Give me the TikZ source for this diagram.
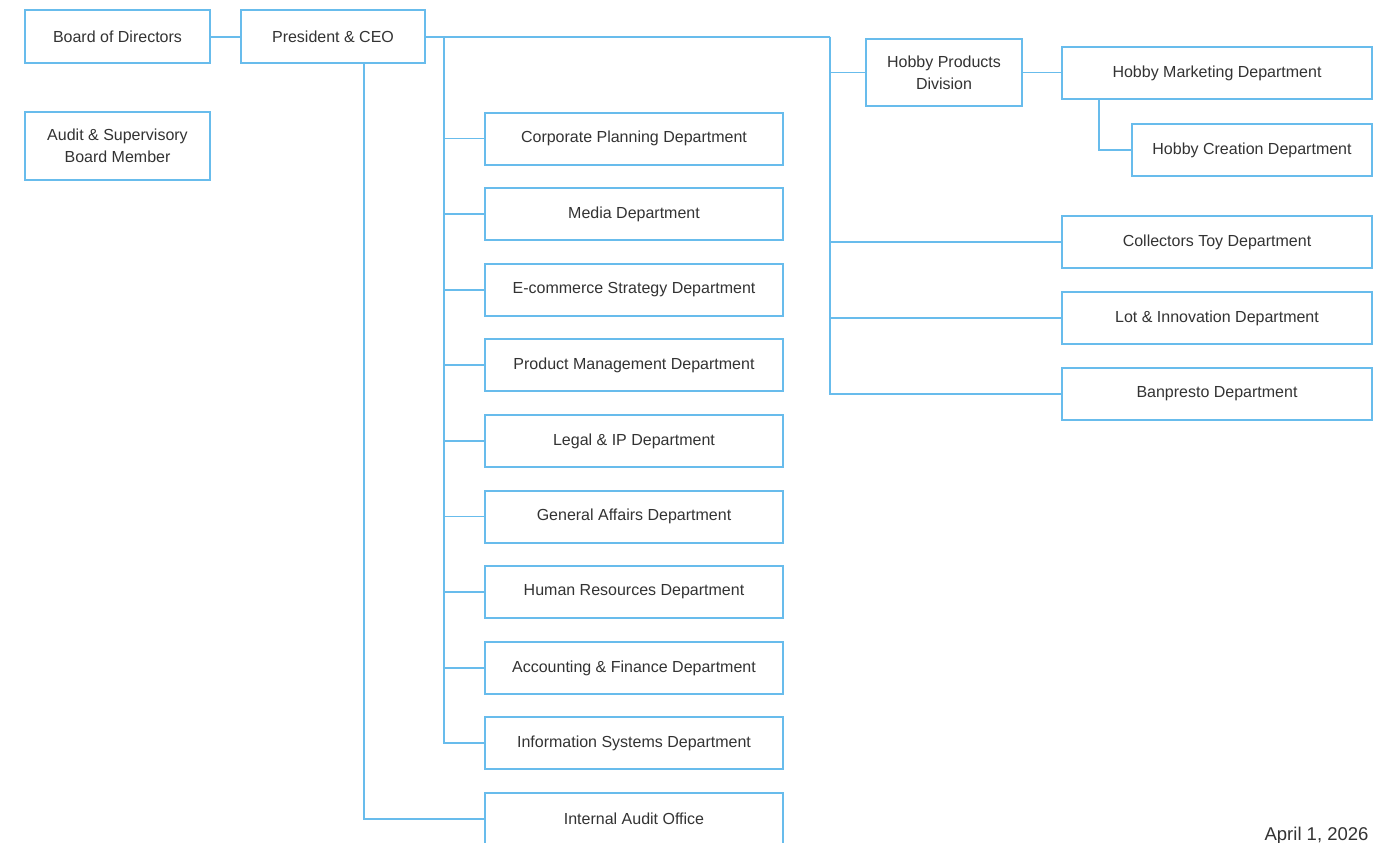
\documentclass[tikz,border=0pt]{standalone}
\usepackage{fontspec}
\setmainfont{Liberation Sans}
\usepackage{tikz}
\usetikzlibrary{positioning}
\definecolor{orgblue}{RGB}{104,188,236}
\definecolor{orgtext}{RGB}{51,51,51}
\tikzset{
  unit/.style={draw=orgblue,line width=2pt,fill=white,text=orgtext,align=center,
    font=\fontsize{16}{22}\selectfont,inner sep=2pt,minimum height=52pt},
  wideunit/.style={unit,minimum width=298pt},
  rightunit/.style={unit,minimum width=310pt},
  link/.style={draw=orgblue,line width=1.2pt}
}

\begin{document}
\begin{tikzpicture}[x=1pt,y=-1pt]
      \useasboundingbox (0,0) rectangle (1389,843);
      % top management
      \node[unit,minimum width=185pt,minimum height=53pt] (board) at (117.5,37) {Board of Directors};
      \node[unit,minimum width=184pt,minimum height=53pt] (ceo) at (333,37) {President \& CEO};
      \node[unit,minimum width=185pt,minimum height=68pt] (audit) at (117.5,146) {Audit \& Supervisory\\Board Member};
      % corporate departments
      \node[wideunit] (plan) at (634,138.5) {Corporate Planning Department};
      \node[wideunit] (media) at (634,214) {Media Department};
      \node[wideunit] (ecom) at (634,290) {E-commerce Strategy Department};
      \node[wideunit] (prod) at (634,365) {Product Management Department};
      \node[wideunit] (legal) at (634,441) {Legal \& IP Department};
      \node[wideunit] (affairs) at (634,516.5) {General Affairs Department};
      \node[wideunit] (hr) at (634,592) {Human Resources Department};
      \node[wideunit] (acc) at (634,668) {Accounting \& Finance Department};
      \node[wideunit] (info) at (634,743) {Information Systems Department};
      \node[wideunit] (iao) at (634,819) {Internal Audit Office};
      % hobby side
      \node[unit,minimum width=156pt,minimum height=67pt] (hpd) at (944,72.5) {Hobby Products\\Division};
      \node[rightunit] (hmkt) at (1217,73) {Hobby Marketing Department};
      \node[unit,minimum width=240pt] (hcre) at (1252,150) {Hobby Creation Department};
      \node[rightunit] (coll) at (1217,242) {Collectors Toy Department};
      \node[rightunit] (lot) at (1217,318) {Lot \& Innovation Department};
      \node[rightunit] (banp) at (1217,394) {Banpresto Department};
      \node[anchor=base east,text=orgtext,font=\fontsize{18.5}{22}\selectfont] (date) at (1372,840) {April 1, 2026};
      % connectors
      \coordinate (spine) at (444,37);
      \coordinate (hub) at (830,37);
      \begin{scope}[every path/.style={link}]
        \draw (board) -- (ceo);
        \draw (ceo.east) -- (hub);
        \draw (spine) |- (plan.west);
        \draw (spine) |- (media.west);
        \draw (spine) |- (ecom.west);
        \draw (spine) |- (prod.west);
        \draw (spine) |- (legal.west);
        \draw (spine) |- (affairs.west);
        \draw (spine) |- (hr.west);
        \draw (spine) |- (acc.west);
        \draw (spine) |- (info.west);
        \draw ([xshift=31pt]ceo.south) |- (iao.west);
        \draw (hub) |- (hpd.west);
        \draw (hub) |- (coll.west);
        \draw (hub) |- (lot.west);
        \draw (hub) |- (banp.west);
        \draw (hpd.east) -- (hpd.east -| hmkt.west);
        \draw ([xshift=38pt]hmkt.south west) |- (hcre.west);
      \end{scope}
    \end{tikzpicture}
\end{document}
